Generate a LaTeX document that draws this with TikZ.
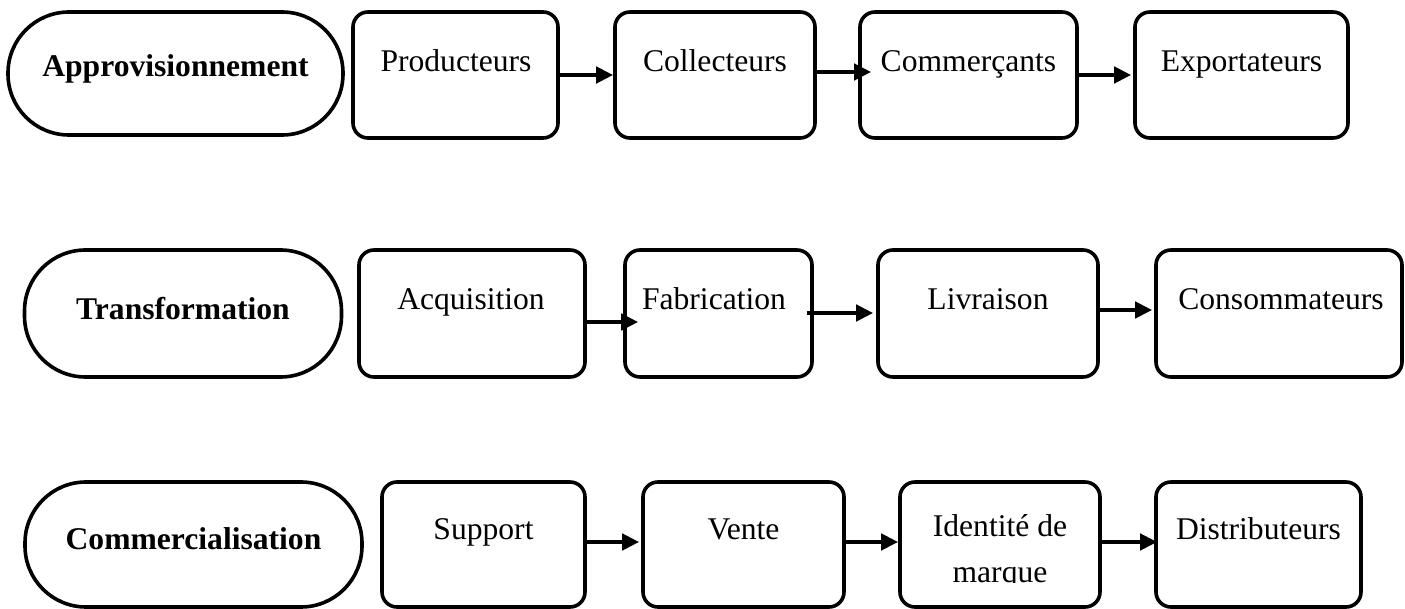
\documentclass[tikz,border=0pt]{standalone}
\usepackage{fontspec}
\setmainfont{Liberation Serif}
\usetikzlibrary{arrows.meta,fit}
\newcommand\lbl{\fontsize{15.8pt}{19pt}\selectfont}
\tikzset{
  box/.style={draw, line width=1.8pt, rounded corners=7.5pt, inner sep=0pt},
  pill/.style={draw, line width=1.8pt, rounded corners=30.5pt, inner sep=0pt},
  txt/.style={font=\lbl, anchor=base, inner sep=0pt},
  head/.style={txt, font=\lbl\bfseries},
  arr/.style={line width=2.2pt, -{Triangle[length=8.5pt,width=8pt]}}
}
\begin{document}
\begin{tikzpicture}[x=0.5pt, y=-0.5pt]
\useasboundingbox (0,0) rectangle (1405,609);

% --- Approvisionnement ---
\node[pill, fit={(8,12) (343,135)}] (appr) {};
\node[box, fit={(353,12) (558,138)}] (prod) {};
\node[box, fit={(615,12) (815,138)}] (coll) {};
\node[box, fit={(860,12) (1077,138)}] (comm) {};
\node[box, fit={(1135,12) (1348,138)}] (expo) {};
\node[head] (apprT) at (175.5,77) {Approvisionnement};
\node[txt] (prodT) at (456,72) {Producteurs};
\node[txt] (collT) at (715,72) {Collecteurs};
\node[txt] (commT) at (968.5,72) {Commerçants};
\node[txt] (expoT) at (1241.5,72) {Exportateurs};
\draw[arr] (prod.east |- 0,75) -- (coll.west |- 0,75);
\draw[arr, shorten >=-6.5pt] (coll.east |- 0,72) -- (comm.west |- 0,72);
\draw[arr, shorten >=1pt] (comm.east |- 0,75) -- (expo.west |- 0,75);

% --- Transformation ---
\node[pill, fit={(24.5,250) (341.5,377)}] (trans) {};
\node[box, fit={(359,250) (585,377)}] (acq) {};
\node[box, fit={(625,250) (812,377)}] (fab) {};
\node[box, fit={(878,250) (1098,377)}] (livr) {};
\node[box, fit={(1156,250) (1402,377)}] (cons) {};
\node[head] (transT) at (183,320) {Transformation};
\node[txt] (acqT) at (471,310) {Acquisition};
\node[txt] (fabT) at (714,310) {Fabrication};
\node[txt] (livrT) at (988,310) {Livraison};
\node[txt] (consT) at (1281,310) {Consommateurs};
\draw[arr, shorten >=-7.5pt] (acq.east |- 0,322) -- (fab.west |- 0,322);
\draw[arr, shorten <=-3.5pt, shorten >=1.5pt] (fab.east |- 0,313) -- (livr.west |- 0,313);
\draw[arr, shorten >=1pt] (livr.east |- 0,310) -- (cons.west |- 0,310);

% --- Commercialisation ---
\node[pill, fit={(25,482) (362,607)}] (comc) {};
\node[box, fit={(382,482) (585,607)}] (supp) {};
\node[box, fit={(643,482) (844,607)}] (vente) {};
\node[box, fit={(900,482) (1100,607)}] (iden) {};
\node[box, fit={(1156,482) (1361,607)}] (dist) {};
\node[head] (comcT) at (193.5,550) {Commercialisation};
\node[txt] (suppT) at (483.5,540) {Support};
\node[txt] (venteT) at (743.5,540) {Vente};
\node[txt] (idenT) at (1000,537) {Identité de};
% second line cut off just under its baseline
\begin{scope}
  \clip (900,482) rectangle (1100,582.5);
  \node[txt] (idenU) at (1000,582) {marque};
\end{scope}
\node[txt] (distT) at (1258.5,540) {Distributeurs};
\draw[arr, shorten >=1pt] (supp.east |- 0,542) -- (vente.west |- 0,542);
\draw[arr] (vente.east |- 0,542) -- (iden.west |- 0,542);
\draw[arr, shorten >=-1.5pt] (iden.east |- 0,542) -- (dist.west |- 0,542);
\end{tikzpicture}
\end{document}
